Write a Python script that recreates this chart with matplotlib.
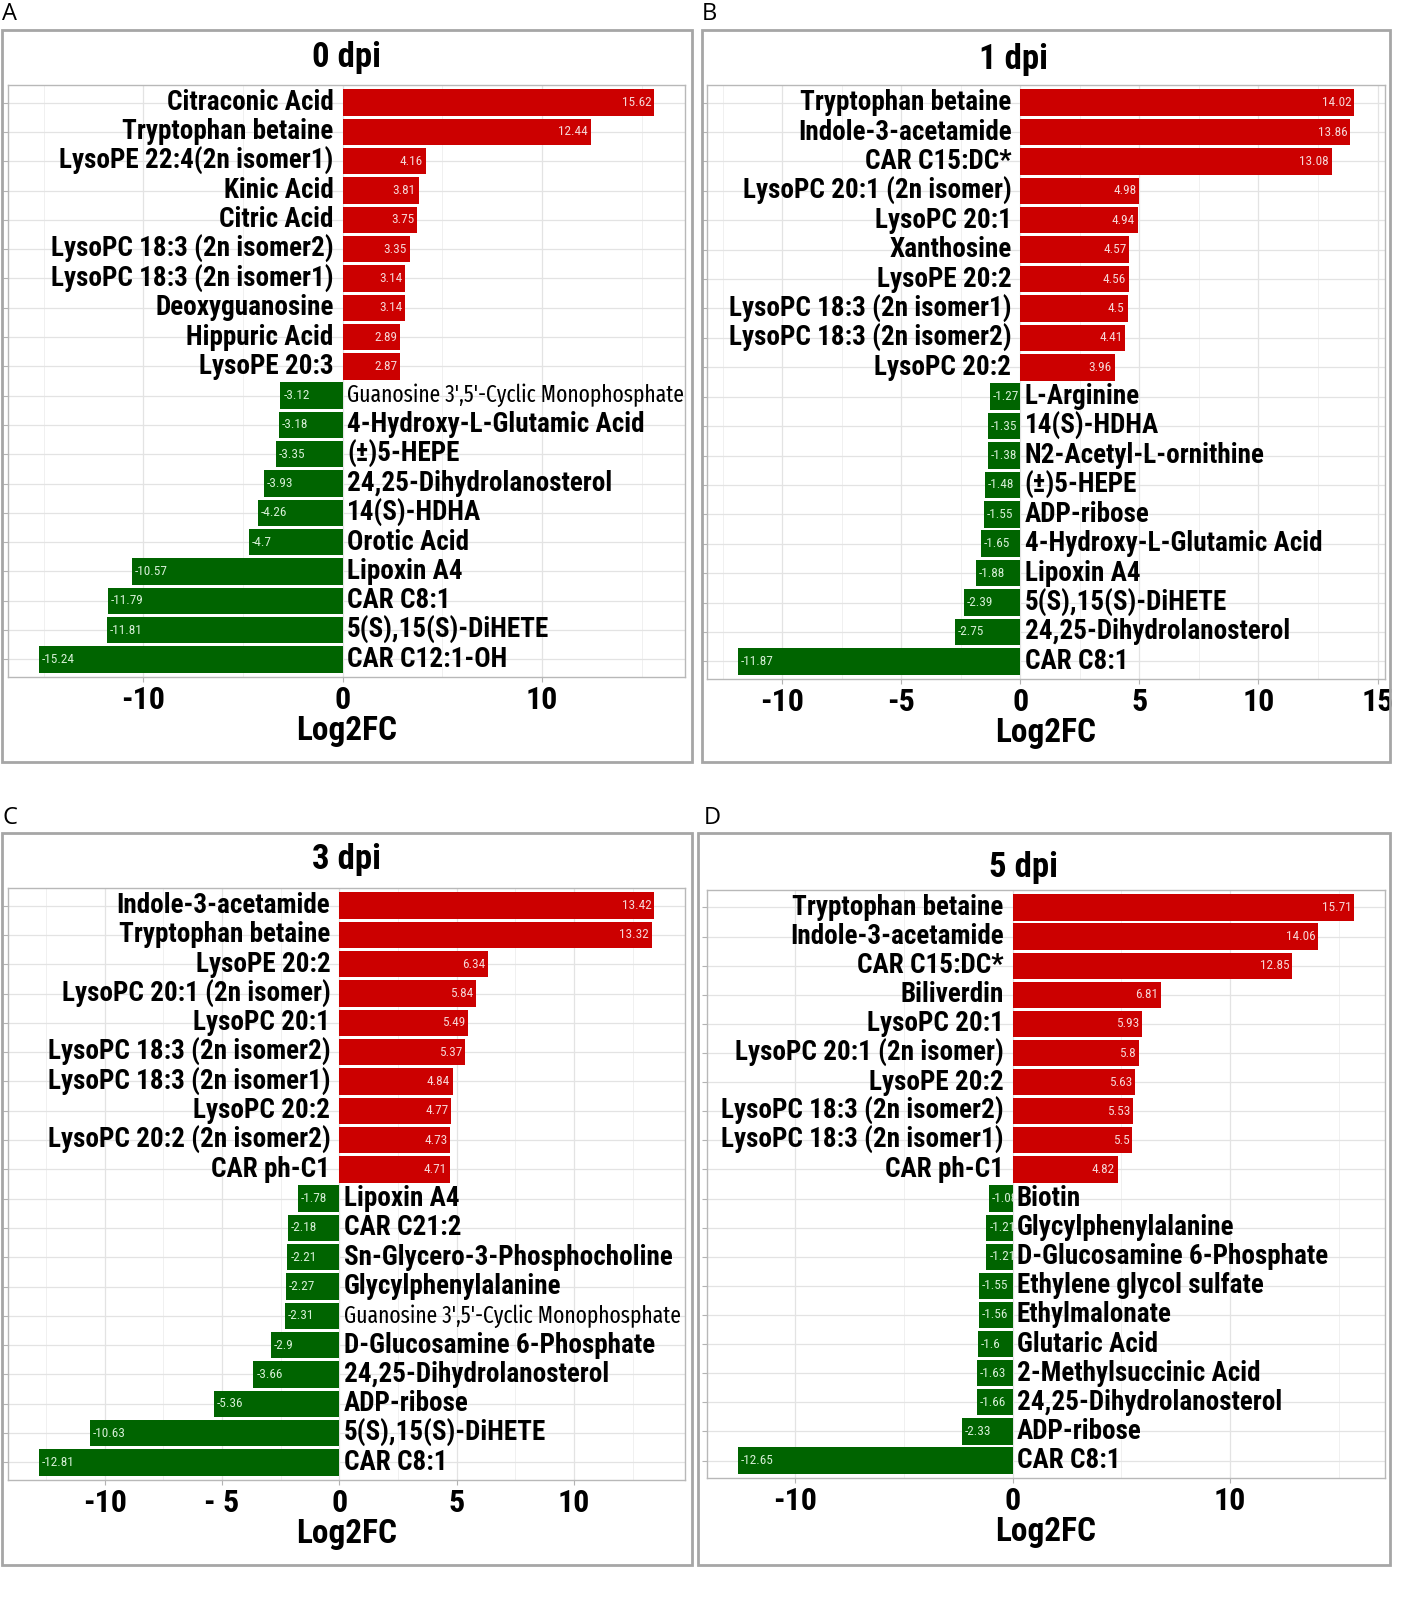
"""Four-panel diverging bar chart of Log2FC per metabolite at 0/1/3/5 dpi."""
import numpy as np
import matplotlib
matplotlib.use("Agg")
import matplotlib.pyplot as plt
from matplotlib.patches import Rectangle
from matplotlib.ticker import MultipleLocator
from matplotlib.transforms import Bbox, TransformedBbox

# ---- data (top to bottom) -------------------------------------------------
names_0dpi = [
    "Citraconic Acid", "Tryptophan betaine", "LysoPE 22:4(2n isomer1)",
    "Kinic Acid", "Citric Acid", "LysoPC 18:3 (2n isomer2)",
    "LysoPC 18:3 (2n isomer1)", "Deoxyguanosine", "Hippuric Acid",
    "LysoPE 20:3", "Guanosine 3',5'-Cyclic Monophosphate",
    "4-Hydroxy-L-Glutamic Acid", "(±)5-HEPE", "24,25-Dihydrolanosterol",
    "14(S)-HDHA", "Orotic Acid", "Lipoxin A4", "CAR C8:1",
    "5(S),15(S)-DiHETE", "CAR C12:1-OH",
]
fc_0dpi = [15.62, 12.44, 4.16, 3.81, 3.75, 3.35, 3.14, 3.14, 2.89, 2.87,
           -3.12, -3.18, -3.35, -3.93, -4.26, -4.7, -10.57, -11.79, -11.81,
           -15.24]

names_1dpi = [
    "Tryptophan betaine", "Indole-3-acetamide", "CAR C15:DC*",
    "LysoPC 20:1 (2n isomer)", "LysoPC 20:1", "Xanthosine", "LysoPE 20:2",
    "LysoPC 18:3 (2n isomer1)", "LysoPC 18:3 (2n isomer2)", "LysoPC 20:2",
    "L-Arginine", "14(S)-HDHA", "N2-Acetyl-L-ornithine", "(±)5-HEPE",
    "ADP-ribose", "4-Hydroxy-L-Glutamic Acid", "Lipoxin A4",
    "5(S),15(S)-DiHETE", "24,25-Dihydrolanosterol", "CAR C8:1",
]
fc_1dpi = [14.02, 13.86, 13.08, 4.98, 4.94, 4.57, 4.56, 4.5, 4.41, 3.96,
           -1.27, -1.35, -1.38, -1.48, -1.55, -1.65, -1.88, -2.39, -2.75,
           -11.87]

names_3dpi = [
    "Indole-3-acetamide", "Tryptophan betaine", "LysoPE 20:2",
    "LysoPC 20:1 (2n isomer)", "LysoPC 20:1", "LysoPC 18:3 (2n isomer2)",
    "LysoPC 18:3 (2n isomer1)", "LysoPC 20:2", "LysoPC 20:2 (2n isomer2)",
    "CAR ph-C1", "Lipoxin A4", "CAR C21:2", "Sn-Glycero-3-Phosphocholine",
    "Glycylphenylalanine", "Guanosine 3',5'-Cyclic Monophosphate",
    "D-Glucosamine 6-Phosphate", "24,25-Dihydrolanosterol", "ADP-ribose",
    "5(S),15(S)-DiHETE", "CAR C8:1",
]
fc_3dpi = [13.42, 13.32, 6.34, 5.84, 5.49, 5.37, 4.84, 4.77, 4.73, 4.71,
           -1.78, -2.18, -2.21, -2.27, -2.31, -2.9, -3.66, -5.36, -10.63,
           -12.81]

names_5dpi = [
    "Tryptophan betaine", "Indole-3-acetamide", "CAR C15:DC*", "Biliverdin",
    "LysoPC 20:1", "LysoPC 20:1 (2n isomer)", "LysoPE 20:2",
    "LysoPC 18:3 (2n isomer2)", "LysoPC 18:3 (2n isomer1)", "CAR ph-C1",
    "Biotin", "Glycylphenylalanine", "D-Glucosamine 6-Phosphate",
    "Ethylene glycol sulfate", "Ethylmalonate", "Glutaric Acid",
    "2-Methylsuccinic Acid", "24,25-Dihydrolanosterol", "ADP-ribose",
    "CAR C8:1",
]
fc_5dpi = [15.71, 14.06, 12.85, 6.81, 5.93, 5.8, 5.63, 5.53, 5.5, 4.82,
           -1.08, -1.21, -1.21, -1.55, -1.56, -1.6, -1.63, -1.66, -2.33,
           -12.65]

titles = ["0 dpi", "1 dpi", "3 dpi", "5 dpi"]
letters = ["A", "B", "C", "D"]
xticks_0 = [-10, 0, 10]
xticks_1 = [-10, -5, 0, 5, 10, 15]
xticks_3 = [-10, -5, 0, 5, 10]
xticks_5 = [-10, 0, 10]
xticklabels_3 = ["-10", "- 5", "0", "5", "10"]

# ---- style ----------------------------------------------------------------
W, H = 1418, 1598
NARROW = ["Roboto Condensed", "Liberation Sans", "DejaVu Sans"]
XNARROW = ["Fira Sans Extra Condensed", "Roboto Condensed", "DejaVu Sans"]
RED, GREEN = "#cc0000", "#006400"
plt.rcParams["font.family"] = NARROW

fig = plt.figure(figsize=(W / 100, H / 100), dpi=100)


def px_axes(x0, y0, x1, y1):
    return fig.add_axes([x0 / W, 1 - y1 / H, (x1 - x0) / W, (y1 - y0) / H])


def px_box(x0, y0, x1, y1):
    fig.patches.append(Rectangle((x0 / W, 1 - y1 / H), (x1 - x0) / W,
                                 (y1 - y0) / H, transform=fig.transFigure,
                                 fill=False, edgecolor="#a6a6a6", lw=2))


def draw(ax, names, vals, ticks, ticklabels, minor):
    vals = np.asarray(vals)
    y = np.arange(len(vals))
    colors = [RED if v > 0 else GREEN for v in vals]
    ax.barh(y, vals, height=0.9, color=colors, edgecolor="none", zorder=2)

    lo, hi = vals.min(), vals.max()
    pad = (hi - lo) * 0.05
    ax.set_xlim(lo - pad, hi + pad)
    ax.set_ylim(len(vals) - 0.4, -0.6)

    for yi, v, name in zip(y, vals, names):
        if v > 0:
            ax.annotate(name, (0, yi), xytext=(-6.5, 0),
                        textcoords="offset points", ha="right", va="center",
                        fontsize=19.5, fontweight="bold", zorder=3,
                        annotation_clip=False)
        elif name.startswith("Guanosine"):
            # squeezed, regular-weight label in the original
            ax.annotate(name, (0, yi), xytext=(3, 0),
                        textcoords="offset points", ha="left", va="center",
                        fontsize=16.8, family=XNARROW, zorder=3,
                        annotation_clip=False)
        else:
            ax.annotate(name, (0, yi), xytext=(3, 0),
                        textcoords="offset points", ha="left", va="center",
                        fontsize=19.5, fontweight="bold", zorder=3,
                        annotation_clip=False)
        # value label inside the bar, clipped to it
        lab = f"{v:g}"
        t = ax.annotate(lab, (v, yi), xytext=(-2 if v > 0 else 2, 0),
                        textcoords="offset points",
                        ha="right" if v > 0 else "left", va="center",
                        fontsize=9.5, zorder=4,
                        color="#f6d6d6" if v > 0 else "#d6efd6")
        box = TransformedBbox(Bbox.from_extents(min(v, 0), yi - 0.45,
                                                max(v, 0), yi + 0.45),
                              ax.transData)
        t.set_clip_box(box)
        t.set_clip_on(True)

    ax.set_xticks(ticks, ticklabels)
    ax.xaxis.set_minor_locator(MultipleLocator(minor))
    ax.set_yticks(y)
    ax.set_yticklabels([])
    ax.grid(True, which="major", color="#e3e3e3", lw=0.9, zorder=0)
    ax.grid(True, which="minor", axis="x", color="#f0f0f0", lw=0.7, zorder=0)
    ax.set_axisbelow(True)
    ax.tick_params(axis="both", which="major", length=3.5, color="#b3b3b3",
                   width=0.8, pad=2)
    ax.tick_params(axis="x", which="major", labelsize=23)
    ax.tick_params(axis="x", which="minor", length=0)
    for lab in ax.get_xticklabels():
        lab.set_fontweight("bold")
    for sp in ax.spines.values():
        sp.set_color("#b8b8b8")
        sp.set_linewidth(1)
    ax.set_xlabel("Log2FC", fontsize=24, fontweight="bold", labelpad=0)


# outer panel boxes
px_box(2, 30, 692, 762)
px_box(702, 30, 1390, 762)
px_box(2, 833, 692, 1565)
px_box(698, 833, 1390, 1565)

ax_a = px_axes(8, 85, 685, 677)
ax_b = px_axes(707, 85, 1385, 679)
ax_c = px_axes(8, 888, 685, 1480)
ax_d = px_axes(707, 890, 1385, 1478)

draw(ax_a, names_0dpi, fc_0dpi, xticks_0, [str(t) for t in xticks_0], 5)
draw(ax_b, names_1dpi, fc_1dpi, xticks_1, [str(t) for t in xticks_1], 2.5)
draw(ax_c, names_3dpi, fc_3dpi, xticks_3, xticklabels_3, 2.5)
draw(ax_d, names_5dpi, fc_5dpi, xticks_5, [str(t) for t in xticks_5], 5)

# panel titles and letters
for (x, y), title in zip([(346, 57), (1013, 60), (346, 860), (1023, 868)],
                         titles):
    fig.text(x / W, 1 - y / H, title, ha="center", va="center",
             fontsize=25, fontweight="bold")
for (x, y), letter in zip([(2, 14), (702, 14), (2, 818), (704, 818)],
                          letters):
    fig.text(x / W, 1 - y / H, letter, ha="left", va="center",
             fontsize=17, family=["Open Sans", "DejaVu Sans"])

fig.savefig("out.png", dpi=100, facecolor="white")
